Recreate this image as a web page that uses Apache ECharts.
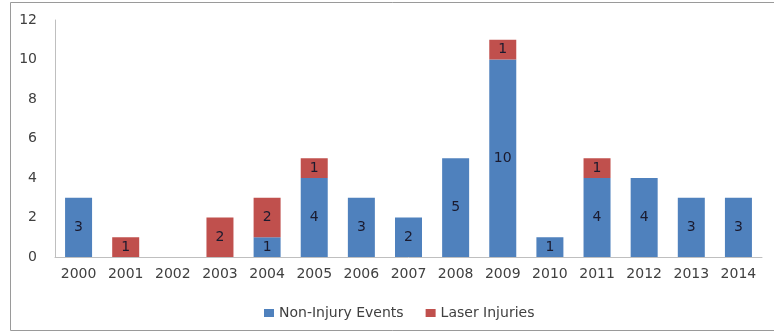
<!DOCTYPE html>
<html><head><meta charset="utf-8">
<script src="https://cdn.jsdelivr.net/npm/echarts@6/dist/echarts.min.js"></script>
<style>html,body{margin:0;padding:0;background:#fff}#c{width:774px;height:333px}</style>
</head><body><div id="c"></div>
<script>
const categories = ['2000','2001','2002','2003','2004','2005','2006','2007','2008','2009','2010','2011','2012','2013','2014'];
const nonInjury = [3,0,0,0,1,4,3,2,5,10,1,4,4,3,3];
const laserInjuries = [0,1,0,2,2,1,0,0,0,1,0,1,0,0,0];
const seriesNames = ['Non-Injury Events','Laser Injuries'];

const font = 'DejaVu Sans';
const chart = echarts.init(document.getElementById('c'), null, {renderer:'canvas'});
const lbl = {show:true, position:'inside', color:'#1a1a2e', fontFamily:font, fontSize:14,
  formatter: p => p.value ? String(p.value) : ''};
chart.setOption({
  animation:false,
  graphic:[{type:'rect', shape:{x:10.5,y:2.5,width:800,height:328}, style:{fill:'none',stroke:'#9a9a9a',lineWidth:1}}],
  grid:{left:55,right:12,top:20,bottom:76,containLabel:false},
  legend:{left:259,top:301,itemWidth:10,itemHeight:8,itemGap:22,icon:'rect',
    textStyle:{fontFamily:font,fontSize:14,color:'#404040'}},
  xAxis:{type:'category',data:categories,
    axisLine:{lineStyle:{color:'#bfbfbf'}},axisTick:{show:false},
    axisLabel:{fontFamily:font,fontSize:14,color:'#404040',margin:10}},
  yAxis:{type:'value',min:0,max:12,interval:2,
    axisLine:{show:true,lineStyle:{color:'#bfbfbf'}},axisTick:{show:false},
    splitLine:{show:false},
    axisLabel:{fontFamily:font,fontSize:14,color:'#404040',margin:18}},
  series:[
    {name:seriesNames[0],type:'bar',stack:'a',data:nonInjury,barWidth:27,itemStyle:{color:'#4F81BD'},label:lbl},
    {name:seriesNames[1],type:'bar',stack:'a',data:laserInjuries,barWidth:27,itemStyle:{color:'#C0504D'},label:lbl}
  ]
});
</script></body></html>
